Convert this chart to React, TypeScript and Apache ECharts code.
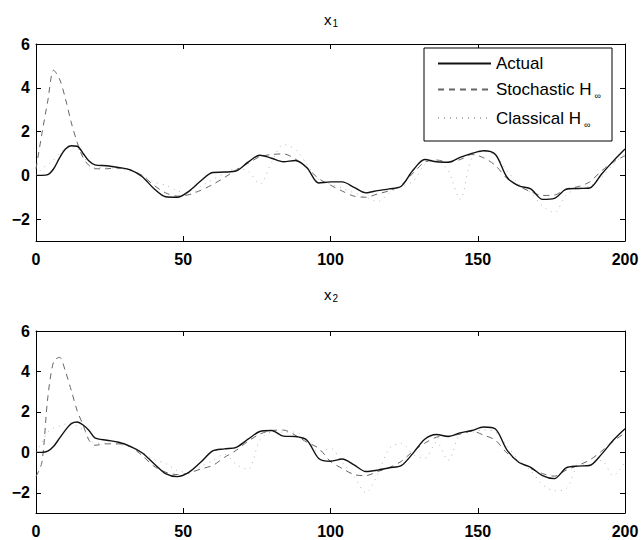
import React, { useEffect, useRef } from "react";
import * as echarts from "echarts";

const T = [0, 2, 4, 6, 8, 10, 12, 14, 16, 18, 20, 24, 28, 32, 36, 40, 44, 48, 52, 56, 60, 64, 68, 72, 76, 80, 84, 88, 92, 96, 100, 104, 108, 112, 116, 120, 124, 128, 132, 136, 140, 144, 148, 152, 156, 160, 164, 168, 172, 176, 180, 184, 188, 192, 196, 200];

const actual1 = [0, 0.0, 0.03, 0.3, 0.8, 1.2, 1.35, 1.33, 1.0, 0.65, 0.48, 0.44, 0.36, 0.25, -0.05, -0.6, -0.98, -1.0, -0.72, -0.25, 0.13, 0.15, 0.2, 0.6, 0.92, 0.78, 0.62, 0.68, 0.35, -0.35, -0.3, -0.3, -0.55, -0.8, -0.7, -0.62, -0.5, 0.23, 0.72, 0.62, 0.6, 0.82, 1.0, 1.12, 0.95, -0.1, -0.48, -0.62, -1.1, -1.05, -0.64, -0.6, -0.58, 0.05, 0.65, 1.2];
const stoch1 = [0.3, 1.9, 3.4, 4.8, 4.4, 3.5, 2.4, 1.5, 0.8, 0.45, 0.3, 0.3, 0.34, 0.25, 0.0, -0.45, -0.8, -0.95, -0.88, -0.68, -0.42, -0.1, 0.25, 0.55, 0.85, 0.95, 0.98, 0.75, 0.35, -0.15, -0.45, -0.72, -0.95, -1.0, -0.85, -0.7, -0.45, 0.1, 0.6, 0.7, 0.6, 0.72, 0.95, 0.8, 0.45, -0.15, -0.5, -0.75, -0.92, -0.9, -0.62, -0.52, -0.3, 0.2, 0.6, 0.9];
const classic1 = [0, 0.3, 0.5, 0.7, 1.0, 1.2, 1.3, 1.25, 0.9, 0.5, 0.35, 0.35, 0.3, 0.2, 0.0, -0.3, -0.45, -0.7, -0.9, -0.5, -0.2, 0.1, 0.3, 0.2, -0.4, 0.6, 1.4, 1.2, 0.5, -0.2, -0.4, -0.6, -0.8, -1.0, -1.2, -0.8, -0.5, -0.28, 0.5, 0.7, 0.2, -1.1, 0.8, 1.1, 0.9, 0.2, -0.4, -0.8, -1.4, -1.7, -0.9, -0.6, -0.5, -0.1, 0.5, 1.0];

const actual2 = [0, 0.0, 0.06, 0.3, 0.7, 1.1, 1.42, 1.5, 1.35, 1.08, 0.72, 0.6, 0.5, 0.3, -0.02, -0.55, -1.05, -1.2, -0.98, -0.48, 0.07, 0.17, 0.25, 0.65, 1.03, 1.08, 0.8, 0.78, 0.6, -0.3, -0.44, -0.33, -0.62, -0.95, -0.88, -0.76, -0.66, -0.05, 0.65, 0.88, 0.78, 0.96, 1.08, 1.25, 1.15, 0.1, -0.5, -0.74, -1.15, -1.3, -0.77, -0.68, -0.65, -0.1, 0.6, 1.17];
const stoch2 = [-1.2, -0.5, 2.7, 4.5, 4.7, 4.0, 3.05, 2.05, 1.35, 0.6, 0.35, 0.42, 0.42, 0.28, -0.15, -0.68, -0.98, -1.1, -1.02, -0.82, -0.65, -0.25, 0.1, 0.55, 0.9, 1.08, 1.1, 0.85, 0.5, 0.2, -0.45, -0.8, -1.1, -1.15, -0.95, -0.75, -0.45, 0.05, 0.45, 0.75, 0.8, 0.9, 1.05, 0.85, 0.6, -0.05, -0.45, -0.8, -1.05, -1.18, -0.88, -0.65, -0.38, 0.05, 0.55, 0.95];
const classic2 = [0, 0.5, 1.0, 1.2, 1.3, 1.4, 1.45, 1.3, 1.1, 0.7, 0.45, 0.45, 0.4, 0.25, 0.0, -0.35, -0.55, -0.9, -1.0, -0.7, -0.4, -0.1, -0.6, -0.85, 0.6, 1.0, 1.0, 1.0, 0.6, 0.0, 0.2, -0.5, -1.2, -2.0, -1.1, 0.2, 0.45, -0.1, -0.3, 0.5, -0.4, 0.9, 1.0, 1.1, 1.0, 0.3, -0.4, -0.9, -1.6, -1.9, -1.8, -0.7, -0.6, -0.4, -1.15, -0.5];

const yTicks = [-2, 0, 2, 4, 6];
const seriesNames = ["Actual", "Stochastic H∞", "Classical H∞"];
const titles = ["1", "2"];

const FONT = "Liberation Sans, Arial, Helvetica, sans-serif";

const pairs = (vals: number[]) => T.map((t, i) => [t, vals[i]]);

export default function App() {
  const ref = useRef<HTMLDivElement>(null);
  useEffect(() => {
    if (!ref.current) return;
    const chart = echarts.init(ref.current, undefined, { renderer: "svg" });
    const grids = [
      { left: 36, top: 44, width: 589, height: 197 },
      { left: 36, top: 331, width: 589, height: 182 },
    ];
    const axisLine = { show: true, onZero: false, lineStyle: { color: "#000", width: 1 } };
    const tick = { inside: true, length: 5, lineStyle: { color: "#000" } };
    const label = { color: "#000", fontSize: 16, fontWeight: "bold" as any, fontFamily: FONT };
    const xAxes: any[] = [];
    const yAxes: any[] = [];
    grids.forEach((_, gi) => {
      xAxes.push({
        type: "value", gridIndex: gi, min: 0, max: 200, interval: 50, position: "bottom",
        axisLine, axisTick: tick,
        axisLabel: { ...label, margin: 10 },
        splitLine: { show: false },
      });
      xAxes.push({
        type: "value", gridIndex: gi, min: 0, max: 200, interval: 50, position: "top",
        axisLine, axisTick: tick,
        axisLabel: { show: false }, splitLine: { show: false },
      });
      yAxes.push({
        type: "value", gridIndex: gi, min: -3, max: 6, position: "left",
        axisLine, axisTick: { ...tick, customValues: yTicks },
        axisLabel: { ...label, margin: 6, customValues: yTicks, formatter: (v: number) => (v < 0 ? "\u2212" + Math.abs(v) : String(v)) },
        splitLine: { show: false },
      });
      yAxes.push({
        type: "value", gridIndex: gi, min: -3, max: 6, position: "right",
        axisLine, axisTick: { ...tick, customValues: yTicks },
        axisLabel: { show: false }, splitLine: { show: false },
      });
    });
    const data = [
      [actual1, stoch1, classic1],
      [actual2, stoch2, classic2],
    ];
    const styles = [
      { color: "#111", width: 1.4, type: "solid" as any },
      { color: "#666", width: 1, type: [6, 5] as any },
      { color: "#b4b4b4", width: 1, type: [1, 5] as any },
    ];
    const series: any[] = [];
    data.forEach((set, gi) => {
      set.forEach((vals, si) => {
        series.push({
          type: "line", name: seriesNames[si], xAxisIndex: gi * 2, yAxisIndex: gi * 2,
          data: pairs(vals), symbol: "none", smooth: 0.3, clip: true,
          lineStyle: styles[si], itemStyle: { color: styles[si].color },
          z: 3 - si,
        });
      });
    });
    const titleGraphics = titles.map((s, i) => ({
      type: "text", x: 331, y: i === 0 ? 19 : 294,
      style: {
        text: `{m|x}{s|${s}}`, align: "center", verticalAlign: "middle", fill: "#000",
        rich: {
          m: { fontSize: 15, fontFamily: FONT, fill: "#000" },
          s: { fontSize: 10, fontFamily: FONT, fill: "#000", padding: [9, 0, 0, 1] },
        },
      },
    }));
    chart.setOption({
      animation: false,
      backgroundColor: "#fff",
      grid: grids,
      xAxis: xAxes,
      yAxis: yAxes,
      series,
      legend: {
        data: seriesNames,
        orient: "vertical",
        left: 437, top: 55,
        itemWidth: 53, itemHeight: 12, itemGap: 9,
        padding: 0,
        selectedMode: false,
        itemStyle: { opacity: 0 },
        formatter: (n: string) => n.replace("H∞", "H{sub|∞}"),
        textStyle: {
          fontSize: 17, fontFamily: FONT, color: "#000",
          rich: { sub: { fontSize: 9, fontFamily: FONT, color: "#000", padding: [13, 0, 0, 3] } },
        },
        z: 10,
      },
      graphic: [
        { type: "rect", shape: { x: 424, y: 48, width: 188, height: 93 }, style: { fill: "#fff", stroke: "#000", lineWidth: 1 }, z: 5 },
        ...titleGraphics,
      ],
    });
    return () => chart.dispose();
  }, []);
  return <div ref={ref} style={{ position: "fixed", left: 0, top: 0, width: 643, height: 540 }} />;
}
